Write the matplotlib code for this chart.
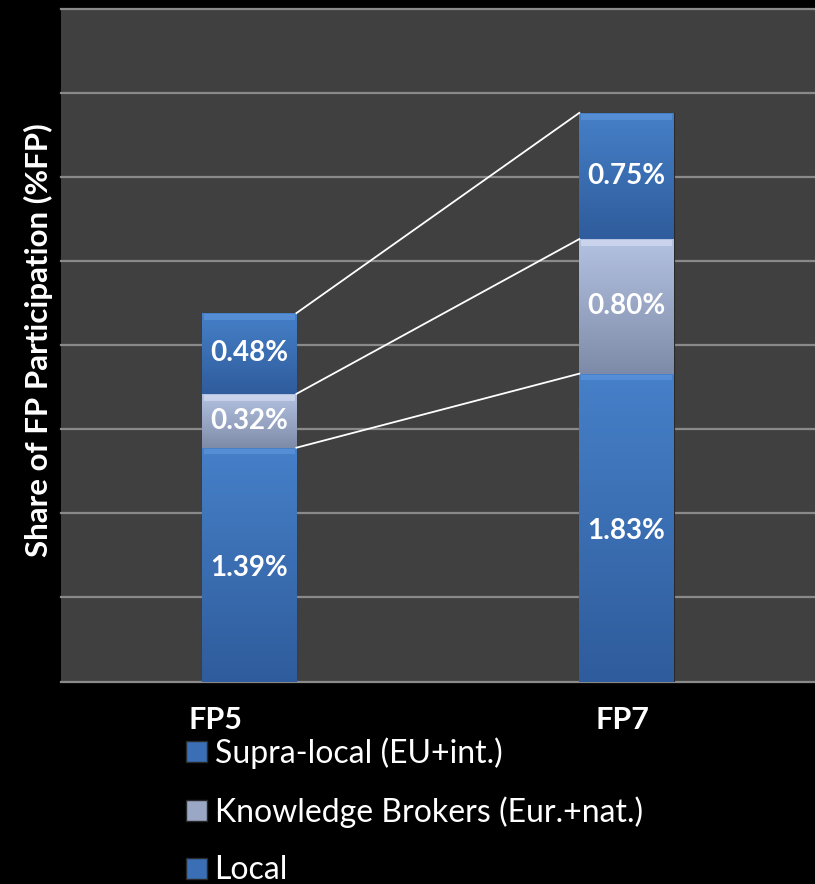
import numpy as np
import matplotlib
matplotlib.use("Agg")
import matplotlib.pyplot as plt
from matplotlib.patches import Patch

plt.rcParams['font.family'] = ['Lato', 'DejaVu Sans']

# Data
programmes = ["FP5", "FP7"]
local = [1.39, 1.83]
brokers = [0.32, 0.80]
supra = [0.48, 0.75]
series_names = ["Supra-local (EU+int.)", "Knowledge Brokers (Eur.+nat.)", "Local"]

blue = "#3a6fb6"
blue_light = "#4680c8"
blue_dark = "#2f5c9c"
grey = "#9aa8c6"
grey_light = "#b4c2e2"
grey_dark = "#7e8ba8"

fig = plt.figure(figsize=(8.15, 8.84), dpi=100, facecolor="black")
ax = fig.add_axes([0.0745, 0.229, 0.9255, 0.7613])
ax.set_facecolor("#404040")

x = np.arange(len(programmes))
width = 0.25

# Gridlines
for g in np.arange(0, 4.01, 0.5):
    ax.axhline(g, color="#8a8a8a", linewidth=1.6, zorder=1, clip_on=False)


def gradient_bar(xc, bottom, height, top_col, bot_col, hi_col):
    bar = ax.bar(xc, height, width, bottom=bottom, color=bot_col,
                 edgecolor="#2a2a2a", linewidth=0.8, zorder=2)[0]
    grad = np.linspace(0, 1, 100).reshape(-1, 1)
    cmap = matplotlib.colors.LinearSegmentedColormap.from_list("g", [bot_col, top_col])
    im = ax.imshow(grad, cmap=cmap, aspect="auto", origin="lower",
                   extent=[xc - width / 2, xc + width / 2, bottom, bottom + height],
                   zorder=3)
    im.set_clip_path(bar)
    # bevel highlight on top
    ax.bar(xc, 0.035, width * 0.97, bottom=bottom + height - 0.04,
           color=hi_col, alpha=0.4, linewidth=0, zorder=4)
    return bar


for i in range(len(programmes)):
    gradient_bar(x[i], 0, local[i], blue_light, blue_dark, "#6fa6ea")
    gradient_bar(x[i], local[i], brokers[i], grey_light, grey_dark, "#eef3ff")
    gradient_bar(x[i], local[i] + brokers[i], supra[i], blue_light, blue_dark, "#6fa6ea")

    ax.text(x[i], local[i] / 2 - 0.02, "%.2f%%" % local[i], color="white",
            fontsize=20, fontweight="bold", ha="center", va="center", zorder=5)
    ax.text(x[i], local[i] + brokers[i] / 2, "%.2f%%" % brokers[i], color="white",
            fontsize=20, fontweight="bold", ha="center", va="center", zorder=5)
    ax.text(x[i], local[i] + brokers[i] + supra[i] / 2, "%.2f%%" % supra[i], color="white",
            fontsize=20, fontweight="bold", ha="center", va="center", zorder=5)

# Connector lines between bars
levels_a = [local[0], local[0] + brokers[0], local[0] + brokers[0] + supra[0]]
levels_b = [local[1], local[1] + brokers[1], local[1] + brokers[1] + supra[1]]
for ya, yb in zip(levels_a, levels_b):
    ax.plot([x[0] + width / 2, x[1] - width / 2], [ya, yb], color="white",
            linewidth=1.3, zorder=6)

ax.set_xlim(-0.5, 1.5)
ax.set_ylim(0, 4.0)
ax.set_xticks([])
ax.set_yticks([])
for s in ax.spines.values():
    s.set_visible(False)

# Category labels
ax.text(-0.09, -0.23, programmes[0], color="white", fontsize=22, fontweight="bold",
        ha="center", va="center")
ax.text(0.99, -0.23, programmes[1], color="white", fontsize=22, fontweight="bold",
        ha="center", va="center")

fig.text(0.047, 0.615, "Share of FP Participation (%FP)", color="white", fontsize=22.5,
         fontweight="bold", rotation=90, ha="center", va="center")

handles = [Patch(facecolor=blue, edgecolor="#2a2a2a"),
           Patch(facecolor=grey, edgecolor="#2a2a2a"),
           Patch(facecolor=blue, edgecolor="#2a2a2a")]
fig.legend(handles, series_names, loc="upper left", bbox_to_anchor=(0.228, 0.166),
           frameon=False, fontsize=23, labelcolor="white", handlelength=0.65,
           handleheight=0.65, handletextpad=0.25, labelspacing=0.86, borderpad=0,
           borderaxespad=0)

fig.savefig("out.png", dpi=100, facecolor="black")
